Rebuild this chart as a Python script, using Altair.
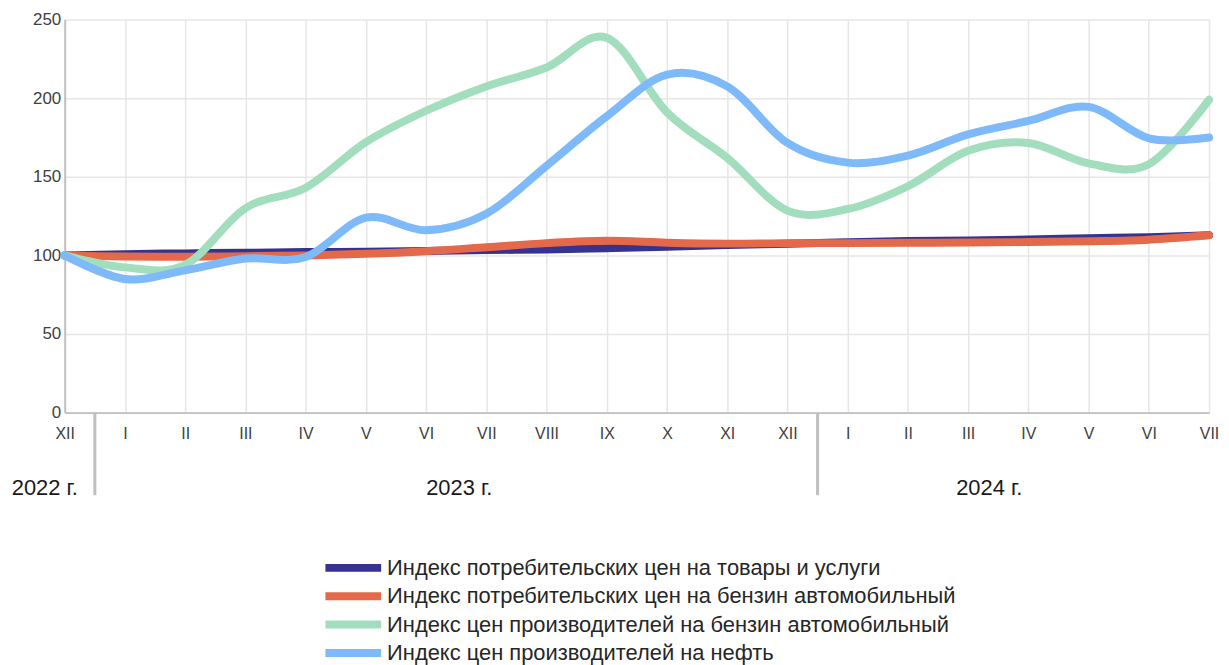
import altair as alt
import pandas as pd

months = ["XII", "I", "II", "III", "IV", "V", "VI", "VII", "VIII", "IX", "X", "XI", "XII",
          "I", "II", "III", "IV", "V", "VI", "VII"]

series_names = [
    "Индекс потребительских цен на товары и услуги",
    "Индекс потребительских цен на бензин автомобильный",
    "Индекс цен производителей на бензин автомобильный",
    "Индекс цен производителей на нефть",
]
series_colors = ["#35338f", "#e3694a", "#a2ddbd", "#7eb9fa"]

cpi_all = [100, 100.8, 101.3, 101.7, 102.1, 102.4, 102.8, 103.4, 103.7, 104.6, 105.5, 106.6,
           107.4, 108.3, 109.1, 109.5, 110.1, 110.9, 111.6, 112.9]
cpi_gasoline = [100, 99.3, 99.2, 99.5, 100.0, 101.0, 102.7, 105.2, 107.8, 109.3, 108.1, 107.5,
                107.8, 107.8, 108.0, 108.2, 108.5, 109.0, 110.0, 112.8]
ppi_gasoline = [100, 92.4, 94.0, 130.0, 143.0, 172.0, 192.0, 207.5, 219.5, 238.5, 191.0, 162.0,
                128.5, 129.5, 144.0, 166.5, 171.5, 158.5, 158.0, 199.0]
ppi_oil = [100, 85.0, 90.5, 98.0, 99.0, 124.0, 116.0, 126.5, 157.0, 188.5, 215.0, 207.5,
           171.5, 159.0, 163.5, 177.0, 185.5, 194.5, 174.5, 175.0]

years = ["2022 г.", "2023 г.", "2024 г."]
year_pos = [-0.33, 6.55, 15.35]
year_breaks = [0.5, 12.5]

y_ticks = [0, 50, 100, 150, 200, 250]

rows = []
for name, vals in zip(series_names, [cpi_all, cpi_gasoline, ppi_gasoline, ppi_oil]):
    for i, v in enumerate(vals):
        rows.append({"idx": i, "series": name, "value": v})
df = pd.DataFrame(rows)

label_expr = "[" + ",".join("'" + m + "'" for m in months) + "][datum.value]"

x_enc = alt.X(
    "idx:Q",
    scale=alt.Scale(domain=[0, len(months) - 1], nice=False, zero=False),
    axis=alt.Axis(
        values=list(range(len(months))),
        labelExpr=label_expr,
        title=None,
        grid=True,
        gridColor="#e6e6e6",
        gridWidth=1.5,
        ticks=False,
        domain=True,
        domainColor="#c0c0c0",
        domainWidth=2,
        labelFont="Liberation Sans",
        labelFontSize=16,
        labelColor="#404040",
        labelPadding=13,
        labelFlush=False,
        labelOverlap=False,
    ),
)
y_enc = alt.Y(
    "value:Q",
    scale=alt.Scale(domain=[0, 250], nice=False),
    axis=alt.Axis(
        values=y_ticks,
        title=None,
        grid=True,
        gridColor="#e6e6e6",
        gridWidth=1.5,
        ticks=False,
        domain=True,
        domainColor="#c0c0c0",
        domainWidth=2,
        labelFont="Liberation Sans",
        labelFontSize=17,
        labelColor="#404040",
        labelPadding=4,
    ),
)
color_enc = alt.Color(
    "series:N",
    scale=alt.Scale(domain=series_names, range=series_colors),
    legend=alt.Legend(
        title=None,
        orient="none",
        legendX=278,
        legendY=539,
        direction="vertical",
        symbolType="M-3.5,0H3.5",
        symbolSize=256,
        symbolStrokeWidth=8,
        symbolOpacity=1,
        labelFont="Liberation Sans",
        labelFontSize=22,
        labelColor="#262626",
        labelLimit=800,
        labelOffset=22,
        rowPadding=-3.5,
        padding=0,
    ),
)

layers = []
for name in series_names:
    layers.append(
        alt.Chart(df)
        .transform_filter(alt.datum.series == name)
        .mark_line(interpolate="cardinal", strokeWidth=8, strokeCap="round", strokeJoin="round")
        .encode(x=x_enc, y=y_enc, color=color_enc)
    )

year_df = pd.DataFrame({"year": years, "pos": year_pos})
year_text = (
    alt.Chart(year_df)
    .mark_text(font="Liberation Sans", fontSize=22, color="#1a1a1a", baseline="middle", align="center")
    .encode(x=alt.X("pos:Q"), y=alt.value(471), text="year:N")
)

break_df = pd.DataFrame({"pos": year_breaks})
breaks = (
    alt.Chart(break_df)
    .mark_rule(color="#bfbfbf", strokeWidth=3)
    .encode(x=alt.X("pos:Q"), y=alt.value(395), y2=alt.value(478))
)

chart = (
    alt.layer(*layers, year_text, breaks)
    .properties(
        width=1150,
        height=395,
        autosize=alt.AutoSizeParams(type="none"),
        padding={"left": 57, "top": 10, "right": 12, "bottom": 252},
    )
    .configure_view(stroke=None)
)

chart.save("out.html", embed_options={"renderer": "svg", "actions": False})
